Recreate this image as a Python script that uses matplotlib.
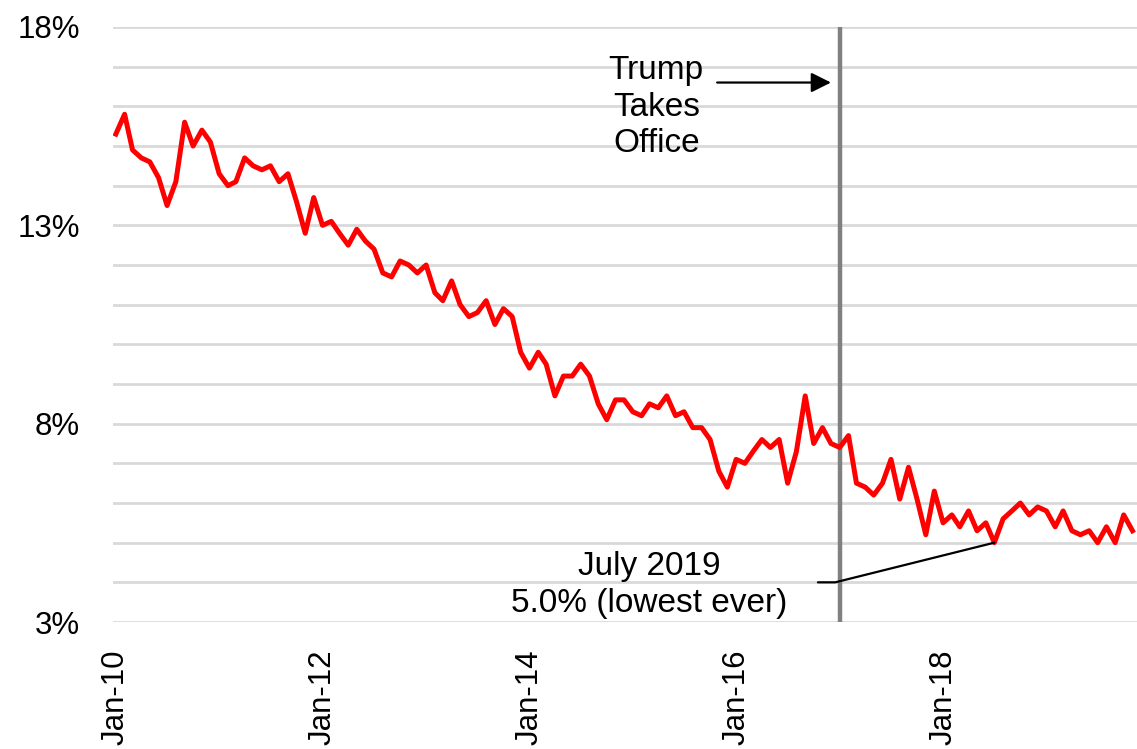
import pandas as pd
import matplotlib
matplotlib.use("Agg")
import matplotlib.pyplot as plt

plt.rcParams['font.family'] = ['Liberation Sans', 'DejaVu Sans']

# Monthly rate (%), starting Jan 2010
rate = [15.3, 15.8, 14.9, 14.7, 14.6, 14.2, 13.5, 14.1, 15.6, 15.0,
        15.4, 15.1, 14.3, 14.0, 14.1, 14.7, 14.5, 14.4, 14.5, 14.1,
        14.3, 13.6, 12.8, 13.7, 13.0, 13.1, 12.8, 12.5, 12.9, 12.6,
        12.4, 11.8, 11.7, 12.1, 12.0, 11.8, 12.0, 11.3, 11.1, 11.6,
        11.0, 10.7, 10.8, 11.1, 10.5, 10.9, 10.7, 9.8, 9.4, 9.8,
        9.5, 8.7, 9.2, 9.2, 9.5, 9.2, 8.5, 8.1, 8.6, 8.6,
        8.3, 8.2, 8.5, 8.4, 8.7, 8.2, 8.3, 7.9, 7.9, 7.6,
        6.8, 6.4, 7.1, 7.0, 7.3, 7.6, 7.4, 7.6, 6.5, 7.3,
        8.7, 7.5, 7.9, 7.5, 7.4, 7.7, 6.5, 6.4, 6.2, 6.5,
        7.1, 6.1, 6.9, 6.1, 5.2, 6.3, 5.5, 5.7, 5.4, 5.8,
        5.3, 5.5, 5.0, 5.6, 5.8, 6.0, 5.7, 5.9, 5.8, 5.4,
        5.8, 5.3, 5.2, 5.3, 5.0, 5.4, 5.0, 5.7, 5.3]
months = pd.date_range('2010-01-01', periods=len(rate), freq='MS')

tick_dates = pd.to_datetime(['2010-01-01', '2012-01-01', '2014-01-01',
                             '2016-01-01', '2018-01-01'])
tick_labels = ['Jan-10', 'Jan-12', 'Jan-14', 'Jan-16', 'Jan-18']
y_ticks = [3, 8, 13, 18]
y_labels = ['3%', '8%', '13%', '18%']

inauguration = pd.Timestamp('2017-01-01')
low_idx = 102
low_label = 'July 2019\n5.0% (lowest ever)'

fig = plt.figure(figsize=(11.37, 7.49), dpi=100)
ax = fig.add_axes([113 / 1137, 1 - 622 / 749, 1 - 113 / 1137, (622 - 27) / 749])

# light horizontal grid every 1%
for level in range(3, 19):
    ax.axhline(level, color='#d9d9d9', lw=2, zorder=0)

ax.plot(months, rate, color='#ff0000', lw=3.6, zorder=3, solid_joinstyle='round')

ax.axvline(inauguration, color='#808080', lw=3.2, zorder=2)

ax.set_ylim(3, 18)
ax.set_xlim(months[0] - pd.Timedelta(days=10), months[-1] + pd.Timedelta(days=16))
ax.set_yticks(y_ticks)
ax.set_yticklabels(y_labels)
ax.set_xticks(tick_dates)
ax.set_xticklabels(tick_labels, rotation=90)
ax.tick_params(axis='x', length=0, pad=20, labelsize=22.5)
ax.tick_params(axis='y', length=0, pad=24, labelsize=22.5)
for s in ax.spines.values():
    s.set_visible(False)

# Trump takes office label + arrow
ax.text(months[62] + pd.Timedelta(days=24), 15.98, 'Trump\nTakes\nOffice',
        ha='center', va='center', fontsize=24, linespacing=1.22)
ax.annotate('', xy=(months[83], 16.6), xytext=(months[69] + pd.Timedelta(days=25), 16.6),
            arrowprops=dict(arrowstyle='-|>', color='black', lw=1.6,
                            mutation_scale=30, shrinkA=0, shrinkB=0))

# lowest-ever callout
ax.text(months[62], 3.93, low_label, ha='center', va='center',
        fontsize=24, linespacing=1.22)
ax.annotate('', xy=(months[low_idx], rate[low_idx]),
            xytext=(months[81] + pd.Timedelta(days=15), 4.0),
            arrowprops=dict(arrowstyle='-', color='black', lw=1.6,
                            connectionstyle='angle,angleA=0,angleB=14,rad=0',
                            shrinkA=0, shrinkB=0))

fig.savefig('out.png', dpi=100)
